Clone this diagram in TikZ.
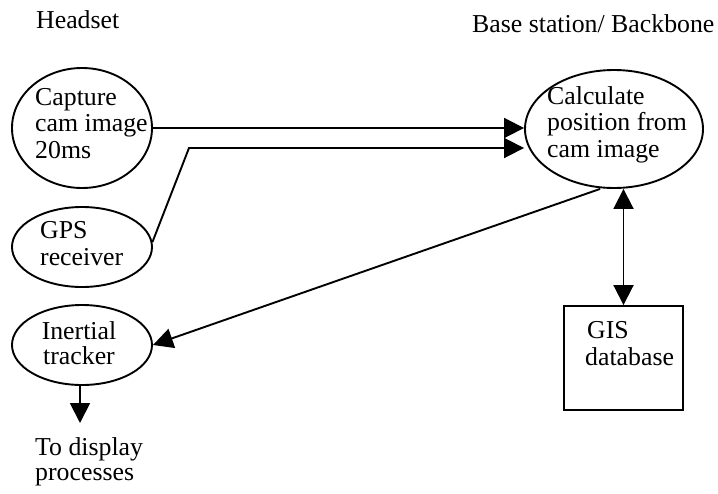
\documentclass[tikz,border=0pt]{standalone}
\usepackage{fontspec}
\setmainfont{Liberation Serif}
\usetikzlibrary{shapes.geometric,arrows.meta}
\begin{document}
\begin{tikzpicture}[x=1pt,y=-1pt,
  proc/.style={ellipse, draw, line width=1.9pt, inner sep=0pt},
  boxnode/.style={rectangle, draw, line width=1.9pt, inner sep=0pt},
  txt/.style={anchor=base west, inner sep=0pt, align=left, font=\fontsize{25.8}{26.5}\selectfont},
  link/.style={line width=1.9pt, -{Triangle[length=20pt,width=20pt]}},
  dlink/.style={line width=1.9pt, {Triangle[length=20pt,width=20pt]}-{Triangle[length=20pt,width=20pt]}}
]
\useasboundingbox (0,0) rectangle (718,493);
% shapes
\node[proc, minimum width=140pt, minimum height=120pt] (cap) at (82,128) {};
\node[proc, minimum width=140pt, minimum height=80pt] (gps) at (82,247) {};
\node[proc, minimum width=140pt, minimum height=80pt] (ins) at (82,345) {};
\node[proc, minimum width=178pt, minimum height=118pt] (calc) at (614,129) {};
\node[boxnode, minimum width=119pt, minimum height=104pt] (gis) at (623.5,358) {};
% texts (base anchor = baseline of last line)
\node[txt] (thead) at (36,28) {Headset};
\node[txt] (tbase) at (472,32) {Base station/ Backbone};
\node[txt] (tcap) at (35,158) {Capture\\cam image\\20ms};
\node[txt] (tgps) at (40,265) {GPS\\receiver};
\node[txt, anchor=base, align=center, font=\fontsize{25.8}{25}\selectfont] (tins) at (79,364) {Inertial\\tracker};
\node[txt] (tcalc) at (547,157) {Calculate\\position from\\cam image};
\node[txt] (tgis) at (587,365) {GIS\\\hspace*{-2pt}database};
\node[txt, font=\fontsize{25.8}{24.5}\selectfont] (tdisp) at (35,480) {To display\\processes};
% connectors
\coordinate (gpsbend) at (189,148);
\coordinate (disp) at (80,423);
\draw[link] (cap.east) -- (calc.west |- cap.east);
\draw[link] (gps.4) -- (gpsbend) -- (calc.west |- gpsbend);
\draw[link] ([xshift=-14pt]calc.south) -- (ins.east);
\draw[dlink] (calc.south -| gis.north) -- (gis.north);
\draw[link] (ins.south -| disp) -- (disp);
\end{tikzpicture}
\end{document}
